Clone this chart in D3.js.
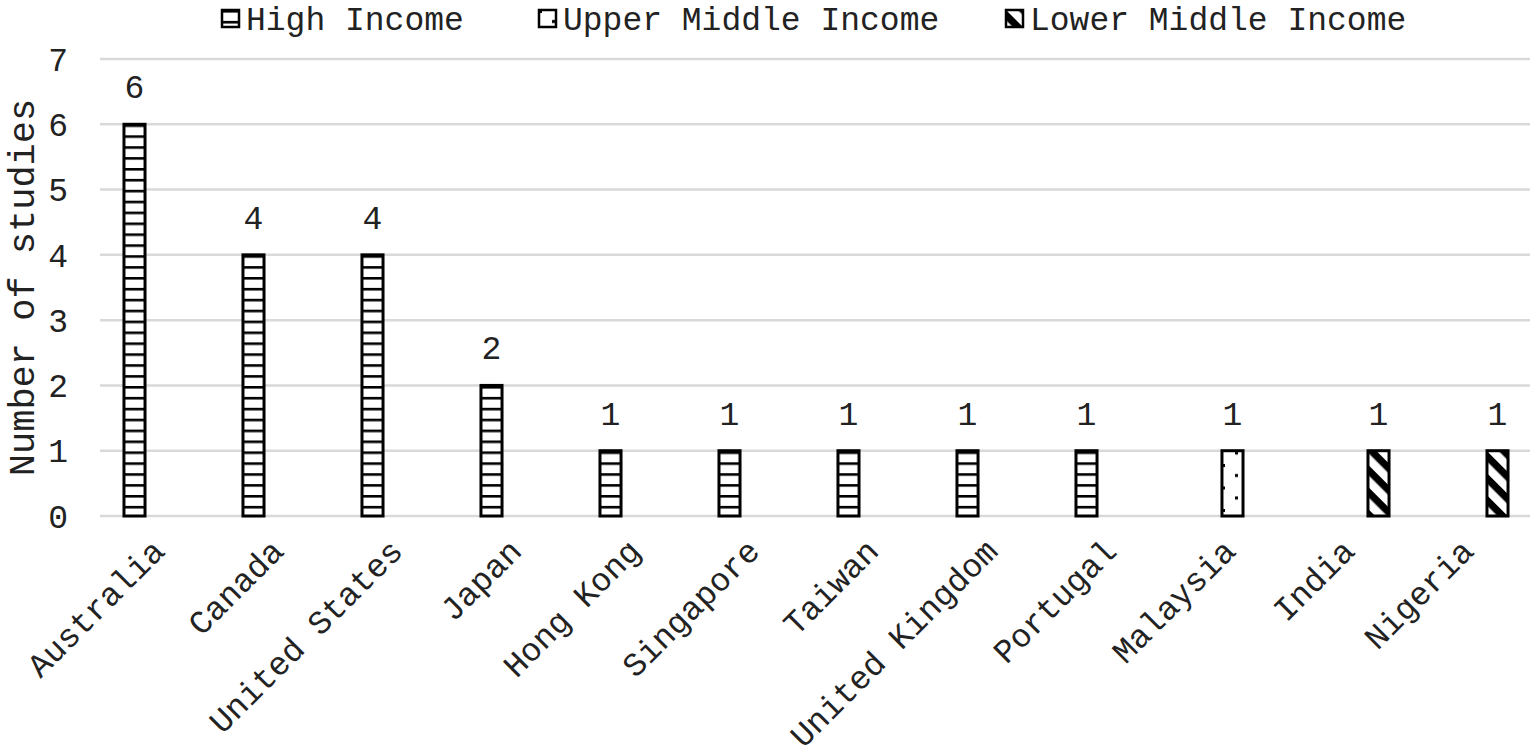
<!DOCTYPE html>
<html lang="en">
<head>
  <meta charset="UTF-8">
  <title>Number of studies by country</title>
  <style>
    body {
      margin: 0;
      background: #fff;
    }
    svg {
      display: block;
      font-family: "Liberation Mono", "Courier New", monospace;
    }
  </style>
</head>
<body>
  <svg id="chart" width="1534" height="751"></svg>

  <script src="https://d3js.org/d3.v7.min.js"></script>
  <script>
    // values
    const countries = ["Australia", "Canada", "United States", "Japan", "Hong Kong", "Singapore",
      "Taiwan", "United Kingdom", "Portugal", "Malaysia", "India", "Nigeria"];
    const seriesNames = ["High Income", "Upper Middle Income", "Lower Middle Income"];
    const highIncome = [6, 4, 4, 2, 1, 1, 1, 1, 1, null, null, null];
    const upperMiddle = [null, null, null, null, null, null, null, null, null, 1, null, null];
    const lowerMiddle = [null, null, null, null, null, null, null, null, null, null, 1, 1];
    const yTicks = [0, 1, 2, 3, 4, 5, 6, 7];

    const seriesValues = [highIncome, upperMiddle, lowerMiddle];
    const patternIds = ["pat-high", "pat-upper", "pat-lower"];

    const svg = d3.select("#chart");
    const margin = { top: 59, right: 4, bottom: 235, left: 102 };
    const width = +svg.attr("width");
    const height = +svg.attr("height");
    const plotW = width - margin.left - margin.right;
    const plotH = height - margin.top - margin.bottom;

    // patterns
    const defs = svg.append("defs");

    const ph = defs.append("pattern")
      .attr("id", "pat-high")
      .attr("patternUnits", "userSpaceOnUse")
      .attr("width", 10).attr("height", 10.9);
    ph.append("rect").attr("width", 10).attr("height", 10.9).attr("fill", "#fff");
    ph.append("rect").attr("y", 0).attr("width", 10).attr("height", 2.6).attr("fill", "#000");

    const pu = defs.append("pattern")
      .attr("id", "pat-upper")
      .attr("patternUnits", "userSpaceOnUse")
      .attr("width", 28).attr("height", 22.5);
    pu.append("rect").attr("width", 28).attr("height", 22.5).attr("fill", "#fff");
    pu.append("rect").attr("x", 0).attr("y", 0).attr("width", 3).attr("height", 3).attr("fill", "#000");
    pu.append("rect").attr("x", 13).attr("y", 10).attr("width", 3).attr("height", 3).attr("fill", "#000");

    const pl = defs.append("pattern")
      .attr("id", "pat-lower")
      .attr("patternUnits", "userSpaceOnUse")
      .attr("width", 15.6).attr("height", 15.6)
      .attr("patternTransform", "rotate(45)");
    pl.append("rect").attr("width", 15.6).attr("height", 15.6).attr("fill", "#fff");
    pl.append("rect").attr("width", 15.6).attr("height", 7.2).attr("fill", "#000");

    const g = svg.append("g")
      .attr("transform", `translate(${margin.left},${margin.top})`);

    const x0 = d3.scaleBand()
      .domain(countries)
      .range([0, plotW]);

    const innerPad = (x0.bandwidth() - 81) / 2;
    const x1 = d3.scaleBand()
      .domain(seriesNames)
      .range([innerPad, x0.bandwidth() - innerPad])
      .paddingInner(0.22)
      .paddingOuter(0.11);

    const y = d3.scaleLinear()
      .domain([0, 7])
      .range([plotH, 0]);

    // gridlines
    g.append("g")
      .selectAll("line")
      .data(yTicks)
      .join("line")
      .attr("x1", -2)
      .attr("x2", plotW)
      .attr("y1", d => y(d))
      .attr("y2", d => y(d))
      .attr("stroke", "#d9d9d9")
      .attr("stroke-width", 2.5);

    // y axis labels
    const yAxis = g.append("g")
      .call(d3.axisLeft(y).tickValues(yTicks).tickFormat(d3.format("d")).tickSize(0).tickPadding(34));
    yAxis.select(".domain").remove();
    yAxis.selectAll("text")
      .attr("font-family", "Liberation Mono")
      .attr("font-size", "33px")
      .attr("fill", "#222")
      .attr("dy", "0.34em");

    // y axis title
    svg.append("text")
      .attr("transform", `translate(34,${margin.top + plotH / 2}) rotate(-90)`)
      .attr("text-anchor", "middle")
      .attr("font-size", "37px")
      .attr("fill", "#222")
      .text("Number of studies");

    // bars
    const barData = [];
    seriesValues.forEach((vals, si) => {
      vals.forEach((v, ci) => {
        if (v != null) barData.push({ country: countries[ci], series: seriesNames[si], si, value: v });
      });
    });

    const bars = g.append("g");
    bars.selectAll("rect")
      .data(barData)
      .join("rect")
      .attr("x", d => x0(d.country) + x1(d.series))
      .attr("y", d => y(d.value))
      .attr("width", x1.bandwidth())
      .attr("height", d => y(0) - y(d.value))
      .attr("fill", d => `url(#${patternIds[d.si]})`)
      .attr("stroke", "#000")
      .attr("stroke-width", 3);

    // data labels
    g.append("g")
      .selectAll("text")
      .data(barData)
      .join("text")
      .attr("x", d => x0(d.country) + x1(d.series) + x1.bandwidth() / 2)
      .attr("y", d => y(d.value) - 26)
      .attr("text-anchor", "middle")
      .attr("font-size", "33px")
      .attr("fill", "#222")
      .text(d => d.value);

    // x axis labels
    g.append("g")
      .selectAll("text")
      .data(countries)
      .join("text")
      .attr("transform", d => `translate(${x0(d) + x0.bandwidth() / 2 + 5},${plotH + 37}) rotate(-45)`)
      .attr("text-anchor", "end")
      .attr("font-size", "33px")
      .attr("fill", "#222")
      .text(d => d);

    // legend
    const legendX = [222, 539, 1006];
    const legend = svg.append("g");
    const item = legend.selectAll("g")
      .data(seriesNames)
      .join("g")
      .attr("transform", (d, i) => `translate(${legendX[i]},10)`);
    item.append("rect")
      .attr("width", 17)
      .attr("height", 17)
      .attr("fill", (d, i) => `url(#${patternIds[i]})`)
      .attr("stroke", "#000")
      .attr("stroke-width", 2.5);
    item.append("text")
      .attr("x", 24)
      .attr("y", 8.5)
      .attr("dy", "0.36em")
      .attr("font-size", "33px")
      .attr("fill", "#222")
      .text(d => d);
  </script>
</body>
</html>
